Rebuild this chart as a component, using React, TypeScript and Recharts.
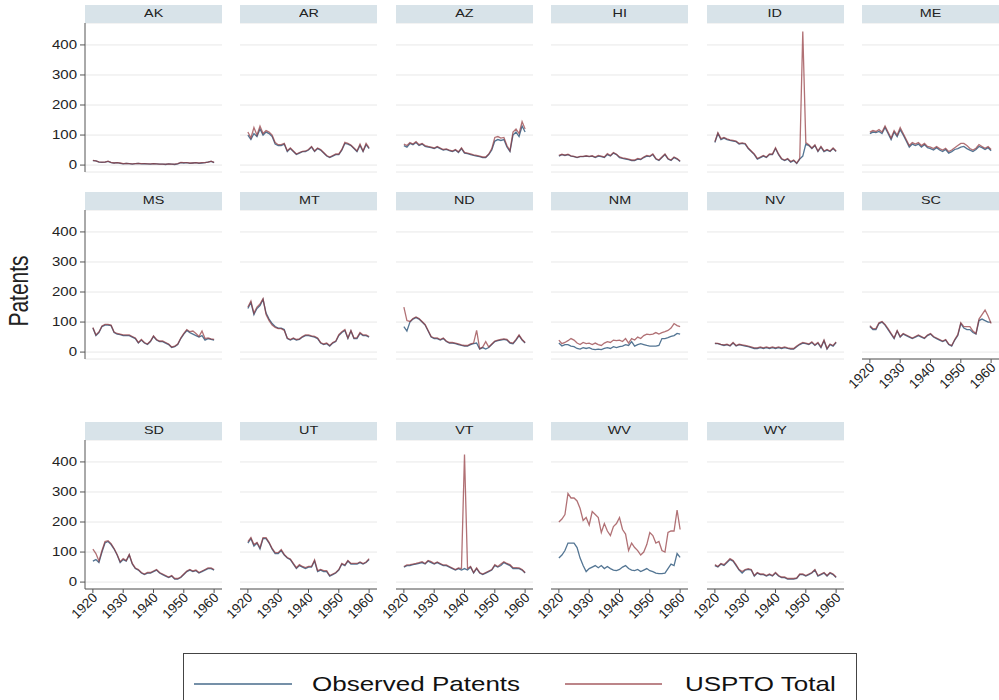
import React from 'react';
import { LineChart, Line, XAxis, YAxis, CartesianGrid } from 'recharts';

const YEARS = [1920,1921,1922,1923,1924,1925,1926,1927,1928,1929,1930,1931,1932,1933,1934,1935,1936,1937,1938,1939,1940,1941,1942,1943,1944,1945,1946,1947,1948,1949,1950,1951,1952,1953,1954,1955,1956,1957,1958,1959,1960];
const X_TICKS = [1920, 1930, 1940, 1950, 1960];
const Y_TICKS = [0, 100, 200, 300, 400];
const STATES = ['AK','AR','AZ','HI','ID','ME','MS','MT','ND','NM','NV','SC','SD','UT','VT','WV','WY'];
const SERIES_NAMES = ['Observed Patents', 'USPTO Total'];

const AK_OBS = [15,14,10,9,10,12,8,7,8,6,4,6,5,3,5,6,4,5,4,3,5,4,3,3,2,4,3,2,4,8,7,8,6,7,8,6,7,8,10,12,8];
const AK_TOT = [16,14,11,10,10,13,9,7,8,7,5,6,5,4,5,6,5,5,4,4,5,4,3,3,3,4,3,3,5,9,8,8,7,7,8,7,8,8,10,13,9];
const AR_OBS = [100,85,105,95,120,100,110,105,95,70,65,65,70,45,55,45,35,40,45,45,50,60,45,55,50,40,30,25,30,35,35,50,72,70,65,55,45,65,45,68,55];
const AR_TOT = [110,90,125,100,130,105,115,110,100,75,68,68,72,48,57,47,37,42,46,47,52,62,47,57,52,42,32,27,32,37,37,52,76,72,67,57,47,70,47,72,57];
const AZ_OBS = [65,60,72,68,75,65,70,62,60,58,55,60,55,50,52,48,45,50,42,55,40,38,35,32,30,28,25,25,35,50,80,85,82,85,60,45,100,110,95,130,110];
const AZ_TOT = [70,65,75,70,78,68,72,65,62,60,57,62,57,52,54,50,47,52,44,57,42,40,37,34,32,30,27,27,37,55,92,95,90,92,65,48,110,120,105,145,120];
const HI_OBS = [30,35,32,35,30,28,25,28,28,30,28,30,25,30,28,25,35,30,40,35,25,22,20,18,15,15,20,18,25,30,28,35,20,15,25,35,20,15,25,20,12];
const HI_TOT = [32,36,33,36,31,29,26,29,29,31,29,31,27,32,30,27,38,32,42,36,27,24,22,20,17,17,22,20,27,32,30,37,22,17,27,37,22,17,27,22,14];
const ID_OBS = [75,105,85,90,85,82,80,78,70,72,70,55,45,35,20,25,30,25,35,35,55,35,20,15,20,10,15,5,20,30,70,65,55,65,45,60,45,50,45,55,45];
const ID_TOT = [78,108,88,92,87,84,82,80,72,74,72,57,47,37,22,27,32,27,37,37,58,37,22,17,22,12,17,7,22,445,75,68,57,67,47,62,47,52,47,57,47];
const ME_OBS = [105,110,108,112,105,125,105,85,110,95,118,100,80,60,70,65,70,60,68,58,55,50,58,50,45,52,40,45,52,55,60,62,55,50,45,52,62,58,52,58,48];
const ME_TOT = [110,115,112,118,110,130,110,90,115,100,125,105,85,65,75,70,75,65,72,62,60,55,62,55,50,56,45,50,58,65,72,72,65,55,50,56,68,62,56,62,52];
const MS_OBS = [80,55,65,85,90,90,88,65,60,58,55,55,55,50,45,30,40,30,25,35,52,40,35,35,30,25,15,18,25,45,60,72,65,60,55,50,55,40,45,42,40];
const MS_TOT = [82,57,67,87,92,92,90,67,62,60,57,57,57,52,47,32,42,32,27,37,54,42,37,37,32,27,17,20,27,47,62,75,68,70,62,52,70,45,47,44,42];
const MT_OBS = [145,165,125,145,155,175,130,110,95,85,80,80,75,45,40,45,40,42,50,55,55,52,50,45,30,25,28,20,30,35,55,65,72,45,70,45,45,62,55,55,50];
const MT_TOT = [150,170,130,150,160,178,125,105,90,82,78,78,72,47,42,47,42,44,52,57,57,54,52,47,32,27,30,22,32,37,58,68,75,47,72,47,48,65,57,57,52];
const ND_OBS = [85,70,100,110,115,110,100,90,70,50,45,45,40,45,35,30,30,28,25,22,20,20,25,28,30,10,15,10,15,25,35,38,40,42,40,30,28,40,55,40,30];
const ND_TOT = [150,105,102,112,117,112,102,92,72,52,47,47,42,47,37,32,32,30,27,24,22,22,27,30,72,12,17,35,17,27,37,40,42,44,42,32,30,42,57,42,32];
const NM_OBS = [30,20,25,25,20,18,12,10,15,12,15,10,8,10,8,12,15,12,18,15,18,20,25,22,35,20,25,28,25,22,20,20,20,22,45,45,48,52,55,62,60];
const NM_TOT = [40,28,32,38,45,40,30,25,32,28,30,25,30,25,22,30,35,32,40,38,40,35,45,30,45,40,50,45,55,60,58,60,65,60,65,68,72,80,95,88,85];
const NV_OBS = [28,28,25,22,25,20,30,20,25,22,20,18,15,12,12,15,12,15,12,15,12,15,12,15,12,10,10,18,25,30,28,25,32,22,30,15,38,10,25,20,32];
const NV_TOT = [30,29,26,24,26,22,32,22,26,24,22,20,17,14,14,17,14,17,14,17,14,17,14,17,14,12,12,20,27,32,30,27,34,24,32,17,40,12,27,22,34];
const SC_OBS = [85,75,75,95,100,90,75,60,45,70,50,60,55,50,45,50,55,50,45,55,60,50,45,40,35,40,25,20,40,55,95,80,75,75,65,60,105,110,105,100,100];
const SC_TOT = [88,78,78,98,102,92,78,62,47,72,52,62,57,52,47,52,57,52,47,57,62,52,47,42,37,42,27,22,42,58,98,85,85,85,70,62,110,125,140,120,95];
const SD_OBS = [70,75,65,100,130,135,125,110,90,65,75,70,90,60,45,40,30,25,30,30,35,40,30,25,20,15,20,10,10,15,25,35,40,35,38,30,35,40,45,45,40];
const SD_TOT = [110,95,70,105,135,138,128,112,92,68,78,72,92,62,47,42,32,27,32,32,37,42,32,27,22,17,22,12,12,17,27,37,42,37,40,32,37,42,47,47,42];
const UT_OBS = [130,145,120,130,110,145,145,130,110,95,95,105,90,80,75,60,45,55,50,45,50,50,70,35,40,35,35,20,25,30,40,60,55,70,60,60,60,65,60,65,75];
const UT_TOT = [135,148,125,132,115,148,148,132,112,98,98,108,92,82,77,62,48,58,52,48,52,52,74,38,42,38,38,22,27,32,42,62,57,72,62,62,62,67,62,67,78];
const VT_OBS = [50,55,55,58,60,62,65,60,70,65,60,65,60,55,55,50,45,40,45,40,45,40,50,30,45,30,25,30,35,40,55,50,55,65,60,55,45,45,45,40,30];
const VT_TOT = [52,57,58,60,62,65,68,62,72,68,62,67,62,57,57,52,47,42,47,45,425,45,52,32,47,32,27,32,37,42,58,52,60,68,62,58,48,48,47,42,32];
const WV_OBS = [80,90,105,130,130,130,115,80,55,35,45,50,55,48,55,45,52,45,40,38,42,50,55,45,40,38,42,35,40,45,38,35,30,28,28,30,45,60,55,95,82];
const WV_TOT = [200,210,225,295,280,280,270,245,205,215,190,235,225,215,165,195,170,155,185,195,215,175,160,105,130,115,105,90,100,125,165,155,130,135,105,100,165,170,170,240,175];
const WY_OBS = [55,50,60,55,65,75,70,55,40,30,40,42,40,20,30,25,25,20,25,20,30,20,15,15,10,10,10,12,25,25,20,25,30,40,20,25,30,20,30,25,15];
const WY_TOT = [58,52,62,58,68,78,72,58,42,35,42,45,42,22,32,27,27,22,27,22,32,22,17,17,12,12,12,14,27,27,22,27,32,42,22,27,32,22,32,27,17];

const OBS_LIST = [AK_OBS, AR_OBS, AZ_OBS, HI_OBS, ID_OBS, ME_OBS, MS_OBS, MT_OBS, ND_OBS, NM_OBS, NV_OBS, SC_OBS, SD_OBS, UT_OBS, VT_OBS, WV_OBS, WY_OBS];
const TOT_LIST = [AK_TOT, AR_TOT, AZ_TOT, HI_TOT, ID_TOT, ME_TOT, MS_TOT, MT_TOT, ND_TOT, NM_TOT, NV_TOT, SC_TOT, SD_TOT, UT_TOT, VT_TOT, WV_TOT, WY_TOT];

const FONT = '"Liberation Sans", Arial, Helvetica, sans-serif';
const BLUE = '#1a476f';
const RED = '#90353b';
const SX = 1.25;

const COL_X0 = 85;
const COL_STEP = 155.4;
const PLOT_W = 137;
const PLOT_H = 149;
const HEAD_H = 18;
const ROW_TOP = [5, 192, 422];
const LEFT_PAD = 50;
const BOTTOM_PAD = 50;
const RIGHT_PAD = 2;

const XTick = (p: any) => (
  <g transform={`translate(${p.x + 2},${p.y + 1}) rotate(-45)`}>
    <text x={0} y={0} dy="0.35em" textAnchor="end" fontSize={13.5} fill="#222" fontFamily={FONT}>
      {p.payload.value}
    </text>
  </g>
);

const YTick = (p: any) => (
  <g transform={`translate(${p.x},${p.y}) scale(${SX},1)`}>
    <text x={0} y={0} dy="0.35em" textAnchor="end" fontSize={12} fill="#222" fontFamily={FONT}>
      {p.payload.value}
    </text>
  </g>
);

function Panel({ idx }: { idx: number }) {
  const name = STATES[idx];
  const obs = OBS_LIST[idx];
  const tot = TOT_LIST[idx];
  const row = Math.floor(idx / 6);
  const col = idx % 6;
  const showX = row === 2 || name === 'SC';
  const showY = col === 0;
  const data = YEARS.map((y, i) => ({ year: y, obs: obs[i], tot: tot[i] }));
  const left = COL_X0 + col * COL_STEP;
  const top = ROW_TOP[row];
  return (
    <>
      <div
        style={{
          position: 'absolute', left, top, width: PLOT_W, height: HEAD_H,
          background: '#d8e3e9', display: 'flex', alignItems: 'center', justifyContent: 'center',
          fontFamily: FONT, fontSize: 11.5, color: '#222', lineHeight: 1,
        }}
      >
        <span style={{ display: 'inline-block', transform: `scaleX(${SX})` }}>{name}</span>
      </div>
      <div style={{ position: 'absolute', left: left - LEFT_PAD, top: top + HEAD_H }}>
        <LineChart
          width={LEFT_PAD + PLOT_W + RIGHT_PAD}
          height={PLOT_H + BOTTOM_PAD}
          data={data}
          style={{ overflow: 'visible' }}
          margin={{ top: 0, right: RIGHT_PAD, bottom: showX ? 0 : BOTTOM_PAD, left: showY ? 0 : LEFT_PAD }}
        >
          <CartesianGrid vertical={false} stroke="#e8e8e8" />
          <XAxis
            dataKey="year" type="number" domain={[1917.4, 1962.6]} ticks={X_TICKS}
            allowDataOverflow hide={!showX} height={BOTTOM_PAD} tickSize={4} tickMargin={1}
            tick={(p: any) => <XTick {...p} />} stroke="#555" interval={0}
          />
          <YAxis
            type="number" domain={[-23, 473]} ticks={Y_TICKS} allowDataOverflow
            hide={!showY} width={LEFT_PAD} tickSize={5} tickMargin={3}
            tick={(p: any) => <YTick {...p} />} stroke="#555" interval={0}
          />
          <Line dataKey="obs" name={SERIES_NAMES[0]} stroke={BLUE} strokeOpacity={0.75} strokeWidth={1.3} dot={false} isAnimationActive={false} />
          <Line dataKey="tot" name={SERIES_NAMES[1]} stroke={RED} strokeOpacity={0.7} strokeWidth={1.3} dot={false} isAnimationActive={false} />
        </LineChart>
      </div>
    </>
  );
}

export default function App() {
  return (
    <div style={{ position: 'absolute', left: 0, top: 0, width: 999, height: 700, background: '#fff', overflow: 'hidden' }}>
      <svg width={999} height={700} style={{ position: 'absolute', left: 0, top: 0 }}>
        <text transform={`translate(28,291) scale(1.3,1) rotate(-90)`} textAnchor="middle" fontSize={21} fill="#222" fontFamily={FONT}>
          Patents
        </text>
        <rect x={183.5} y={653.5} width={673} height={60} fill="#fff" stroke="#444" strokeWidth={1} />
        <line x1={194} x2={292} y1={684} y2={684} stroke={BLUE} strokeOpacity={0.8} strokeWidth={1.6} />
        <text transform={`translate(312,691) scale(1.3,1)`} fontSize={20} fill="#111" fontFamily={FONT}>
          {SERIES_NAMES[0]}
        </text>
        <line x1={565} x2={662} y1={684} y2={684} stroke={RED} strokeOpacity={0.8} strokeWidth={1.6} />
        <text transform={`translate(685,691) scale(1.3,1)`} fontSize={20} fill="#111" fontFamily={FONT}>
          {SERIES_NAMES[1]}
        </text>
      </svg>
      {STATES.map((s, i) => (
        <Panel key={s} idx={i} />
      ))}
    </div>
  );
}
